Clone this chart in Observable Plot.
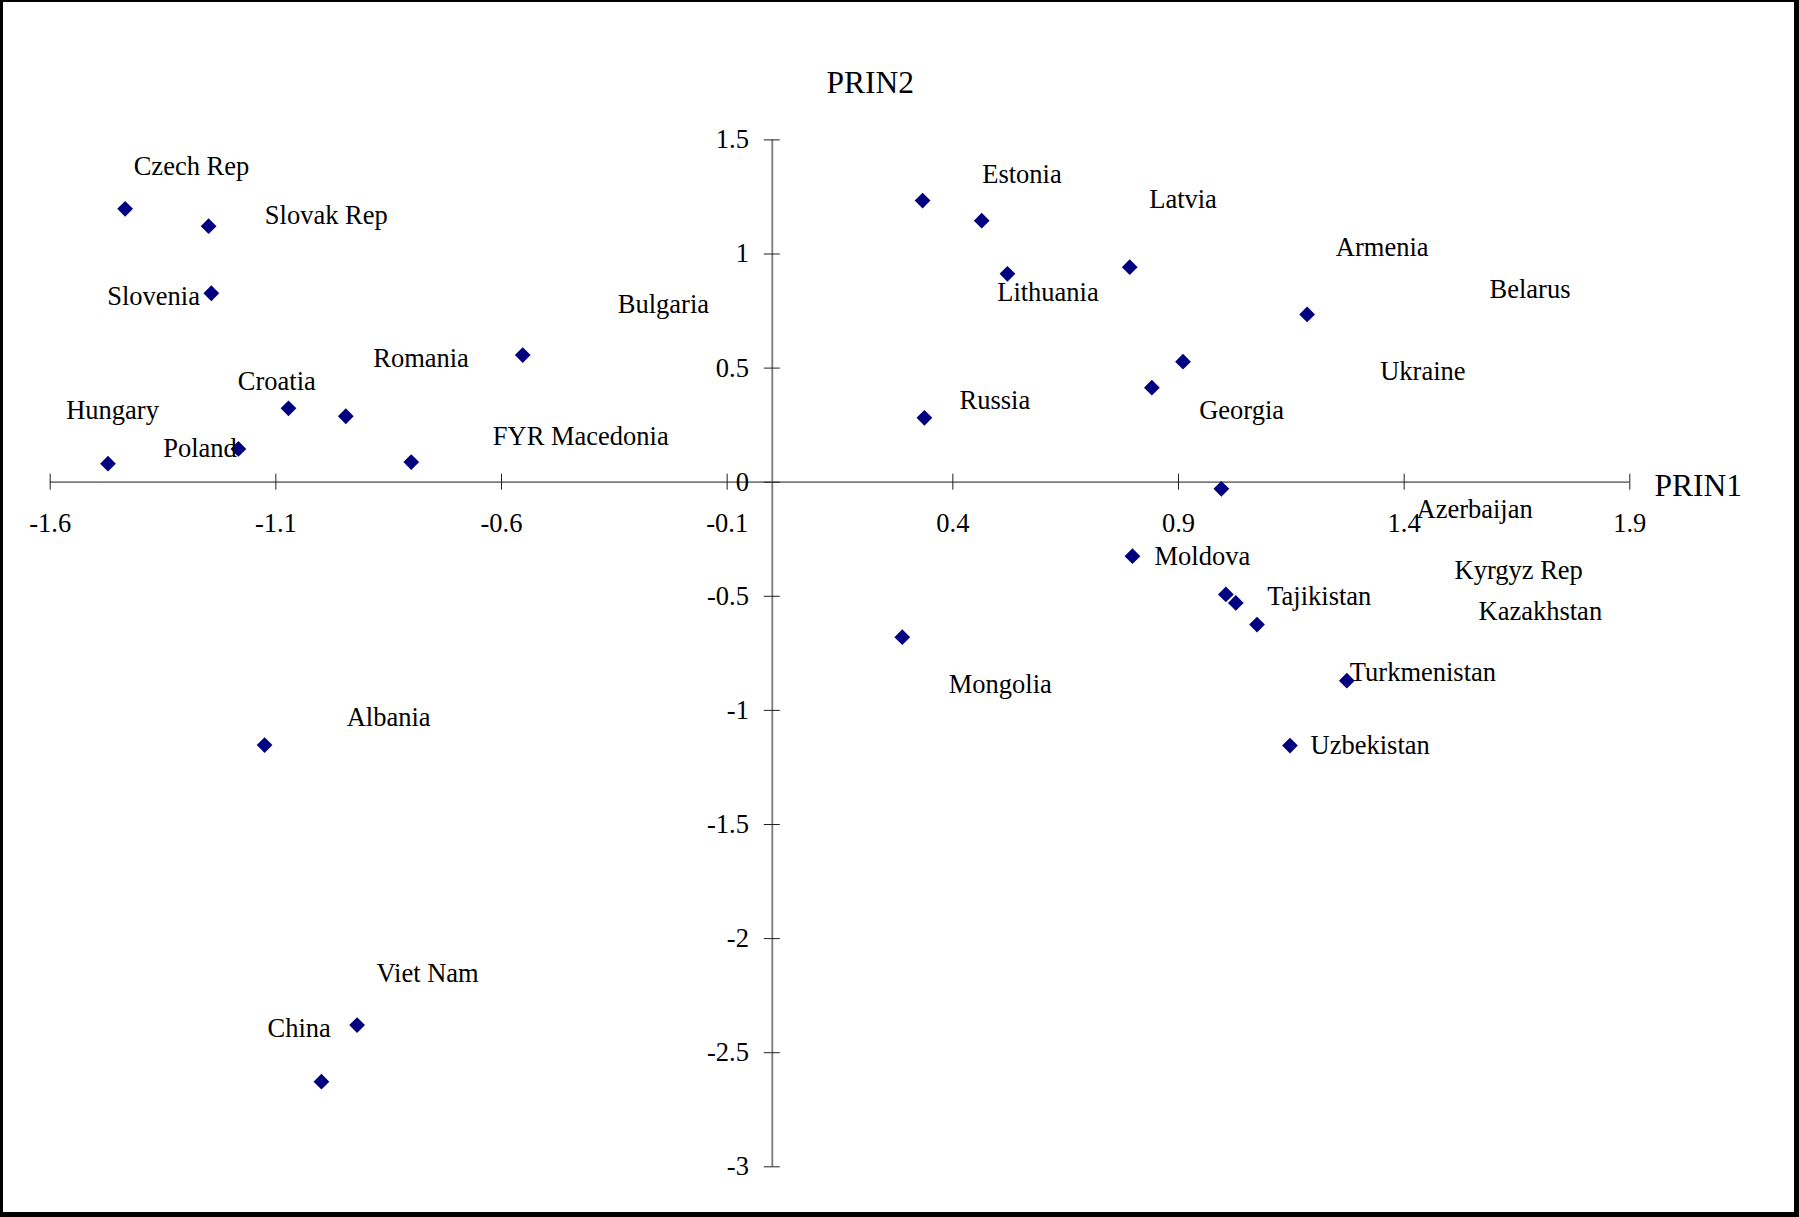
<!DOCTYPE html>
<html>
<head>
<meta charset="utf-8">
<script src="https://cdn.jsdelivr.net/npm/d3@7"></script>
<script src="https://cdn.jsdelivr.net/npm/@observablehq/plot@0.6"></script>
<style>
  html, body { margin: 0; padding: 0; background: #fff; }
  #wrap { position: relative; width: 1799px; height: 1217px; overflow: hidden; background: #fff; }
  #wrap svg { position: absolute; left: 0; top: 0; }
  #frame { position: absolute; left: 0; top: 0; width: 1799px; height: 1217px; box-sizing: border-box;
           border-top: 2px solid #000; border-left: 3px solid #000; border-right: 5px solid #000; border-bottom: 5px solid #000;
           pointer-events: none; }
</style>
</head>
<body>
<div id="wrap"><div id="frame"></div></div>
<script>
// ---- data ----
const xDomain = [-1.6, 1.9];
const yDomain = [-3, 1.5];
const xTicks = [-1.6, -1.1, -0.6, -0.1, 0.4, 0.9, 1.4, 1.9];
const yTicks = [-3, -2.5, -2, -1.5, -1, -0.5, 0, 0.5, 1, 1.5];
const axisTitles = ["PRIN1", "PRIN2"];

const countries = ["Czech Rep", "Slovak Rep", "Slovenia", "Hungary", "Poland", "Croatia", "Romania", "Bulgaria",
  "FYR Macedonia", "Albania", "Viet Nam", "China", "Estonia", "Latvia", "Lithuania", "Armenia", "Belarus",
  "Ukraine", "Georgia", "Russia", "Azerbaijan", "Moldova", "Kyrgyz Rep", "Tajikistan", "Kazakhstan",
  "Turkmenistan", "Uzbekistan", "Mongolia"];
const prin1 = [-1.434, -1.249, -1.243, -1.472, -1.183, -1.072, -0.945, -0.553,
  -0.800, -1.125, -0.920, -0.999, 0.333, 0.464, 0.521, 0.792, 1.185,
  0.910, 0.841, 0.337, 0.995, 0.798, 1.005, 1.027, 1.074,
  1.273, 1.147, 0.288];
const prin2 = [1.198, 1.122, 0.828, 0.081, 0.146, 0.324, 0.289, 0.557,
  0.088, -1.152, -2.379, -2.627, 1.234, 1.146, 0.913, 0.942, 0.735,
  0.528, 0.414, 0.282, -0.029, -0.324, -0.492, -0.529, -0.624,
  -0.870, -1.154, -0.679];
// where each data label sits (left edge / baseline), in data units
const labelPrin1 = [-1.415, -1.1245, -1.4737, -1.5646, -1.3496, -1.1844, -0.8843, -0.3423,
  -0.6193, -0.9431, -0.877, -1.1186, 0.4651, 0.8351, 0.4983, 1.2486, 1.5892,
  1.347, 0.9459, 0.4148, 1.4274, 0.8469, 1.5116, 1.0966, 1.5648,
  1.2796, 1.1926, 0.3911];
const labelPrin2 = [1.3471, 1.1323, 0.7787, 0.2778, 0.1126, 0.4049, 0.507, 0.7423,
  0.1621, -1.0684, -2.188, -2.4321, 1.3133, 1.1994, 0.7932, 0.9904, 0.8072,
  0.4457, 0.2761, 0.3199, -0.156, -0.362, -0.4233, -0.5403, -0.603,
  -0.869, -1.1932, -0.9229];

const table = countries.map((name, i) => ({
  name, x: prin1[i], y: prin2[i], lx: labelPrin1[i], ly: labelPrin2[i]
}));

const font = "'Liberation Serif', 'Times New Roman', Times, serif";
const axisGray = "#7a7a7a";

const chart = Plot.plot({
  width: 1799,
  height: 1217,
  marginTop: 0, marginRight: 0, marginBottom: 0, marginLeft: 0,
  style: { fontFamily: font, fontSize: "26.5px", background: "white", color: "#000", overflow: "visible" },
  x: { domain: xDomain, range: [49.7, 1629.3], axis: null },
  y: { domain: yDomain, range: [1166.3, 139.4], axis: null },
  marks: [
    // axis lines crossing at the origin
    Plot.ruleY([0], { x1: xDomain[0], x2: xDomain[1], stroke: axisGray, strokeWidth: 1.8 }),
    Plot.ruleX([0], { y1: yDomain[0], y2: yDomain[1], stroke: axisGray, strokeWidth: 1.8 }),
    // tick marks crossing the axes
    Plot.ruleX(xTicks, { x: d => d, y1: 0, y2: 0, insetTop: -8, insetBottom: -8, stroke: "#222", strokeWidth: 1 }),
    Plot.ruleY(yTicks, { y: d => d, x1: 0, x2: 0, insetLeft: -8, insetRight: -8, stroke: "#222", strokeWidth: 1 }),
    // tick labels
    Plot.text(xTicks, { x: d => d, y: 0, text: d => String(d), textAnchor: "middle", lineAnchor: "bottom",
      dy: 49.3, fontSize: 26.5, fill: "#000" }),
    Plot.text(yTicks, { x: 0, y: d => d, text: d => String(d), textAnchor: "end", lineAnchor: "middle",
      dx: -23.4, fontSize: 26.5, fill: "#000" }),
    // axis titles
    Plot.text([axisTitles[0]], { x: xDomain[1], y: 0, text: d => d, textAnchor: "start", lineAnchor: "bottom",
      dx: 24.7, dy: 13.3, fontSize: 31.5, fill: "#000" }),
    Plot.text([axisTitles[1]], { x: 0, y: yDomain[1], text: d => d, textAnchor: "start", lineAnchor: "bottom",
      dx: 54.2, dy: -46.7, fontSize: 31.5, fill: "#000" }),
    // points
    Plot.dot(table, { x: "x", y: "y", symbol: "diamond2", r: 7.1, fill: "#000080", stroke: "none" }),
    // country labels
    Plot.text(table, { x: "lx", y: "ly", text: "name", textAnchor: "start", lineAnchor: "bottom",
      fontSize: 26.5, fill: "#000" })
  ]
});
document.getElementById("wrap").insertBefore(chart, document.getElementById("frame"));
</script>
</body>
</html>
